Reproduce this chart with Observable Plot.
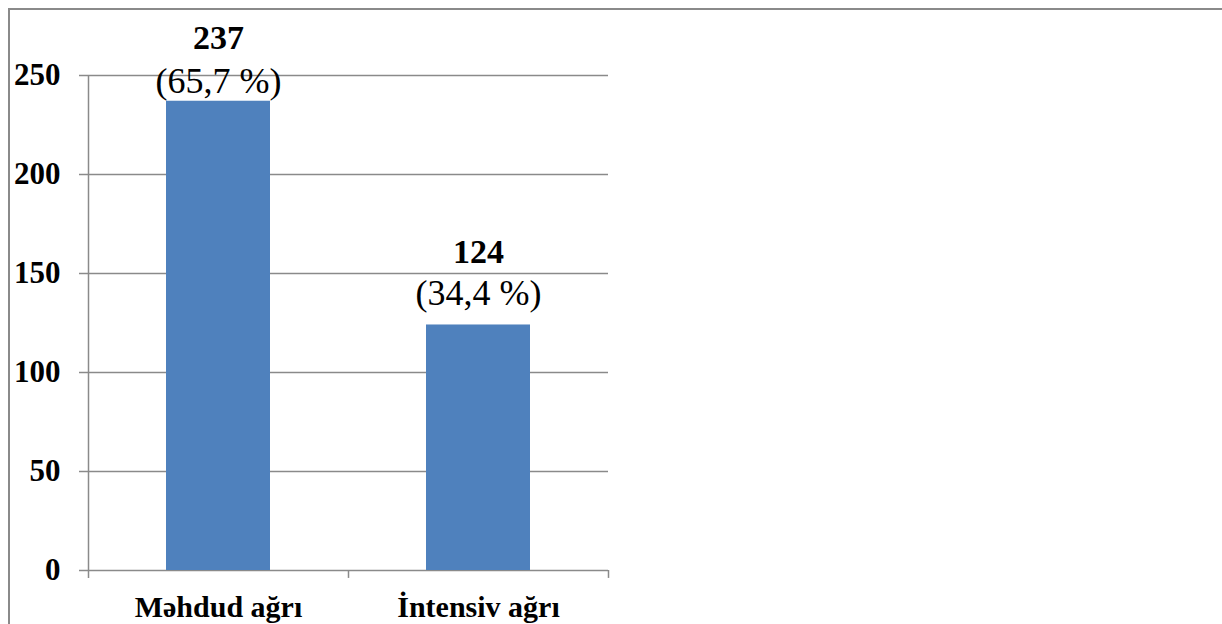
<!DOCTYPE html>
<html>
<head>
<meta charset="utf-8">
<script src="https://cdn.jsdelivr.net/npm/d3@7"></script>
<script src="https://cdn.jsdelivr.net/npm/@observablehq/plot@0.6"></script>
<style>
  html, body { margin: 0; padding: 0; background: white; }
  #wrap { position: relative; width: 1222px; height: 624px; overflow: hidden; }
  #frame { position: absolute; left: 8px; top: 8px; width: 1400px; height: 800px;
           border-left: 2px solid #8a8a8a; border-top: 2px solid #8a8a8a; pointer-events: none; }
</style>
</head>
<body>
<div id="wrap"><div id="frame"></div></div>
<script>
const categories = ["Məhdud ağrı", "İntensiv ağrı"];
const counts = [237, 124];
const percents = [65.7, 34.4];
const yTicks = [0, 50, 100, 150, 200, 250];

const data = categories.map((c, i) => ({
  cat: c,
  n: counts[i],
  pct: "(" + percents[i].toFixed(1).replace(".", ",") + " %)"
}));

const font = "'Liberation Serif', 'Times New Roman', serif";
const grid = "#8a8a8a";

const plot = Plot.plot({
  width: 1222,
  height: 624,
  marginLeft: 88,
  marginRight: 614,
  marginTop: 75,
  marginBottom: 54,
  style: { fontFamily: font, background: "transparent", overflow: "visible" },
  x: { domain: categories, paddingInner: 0.6, paddingOuter: 0.3, label: null },
  y: { domain: [0, 250], label: null },
  marks: [
    Plot.ruleY(yTicks, { stroke: grid, strokeWidth: 1.5 }),
    Plot.axisY({ ticks: yTicks, tickSize: 9, tickPadding: 19, stroke: grid, strokeWidth: 1.5,
                 fontSize: 31, fontWeight: "bold", fill: "black", label: null }),
    Plot.barY(data, { x: "cat", y: "n", fill: "#4f81bd" }),
    // y axis line and x-axis band-boundary ticks
    Plot.ruleX([categories[0]], { x: d => d, dx: -130, y1: -4, y2: 250, stroke: grid, strokeWidth: 1.5 }),
    Plot.ruleX(categories, { x: d => d, dx: 130, y1: -4, y2: 0, stroke: grid, strokeWidth: 1.5 }),
    Plot.axisX({ tickSize: 0, tickPadding: 25, fontSize: 30, fontWeight: "bold", fill: "black", label: null }),
    Plot.text(data.filter((d, i) => i === 0), { x: "cat", y: "n", text: d => String(d.n), lineAnchor: "bottom", dy: -52, fontSize: 34, fontWeight: "bold", fill: "black" }),
    Plot.text(data.filter((d, i) => i === 0), { x: "cat", y: "n", text: "pct", lineAnchor: "bottom", dy: -8, fontSize: 36, fill: "black" }),
    Plot.text(data.filter((d, i) => i === 1), { x: "cat", y: "n", text: d => String(d.n), lineAnchor: "bottom", dy: -62, fontSize: 34, fontWeight: "bold", fill: "black" }),
    Plot.text(data.filter((d, i) => i === 1), { x: "cat", y: "n", text: "pct", lineAnchor: "bottom", dy: -20, fontSize: 36, fill: "black" })
  ]
});
plot.style.position = "absolute";
plot.style.left = "0px";
plot.style.top = "0px";
document.getElementById("wrap").insertBefore(plot, document.getElementById("frame"));
</script>
</body>
</html>
